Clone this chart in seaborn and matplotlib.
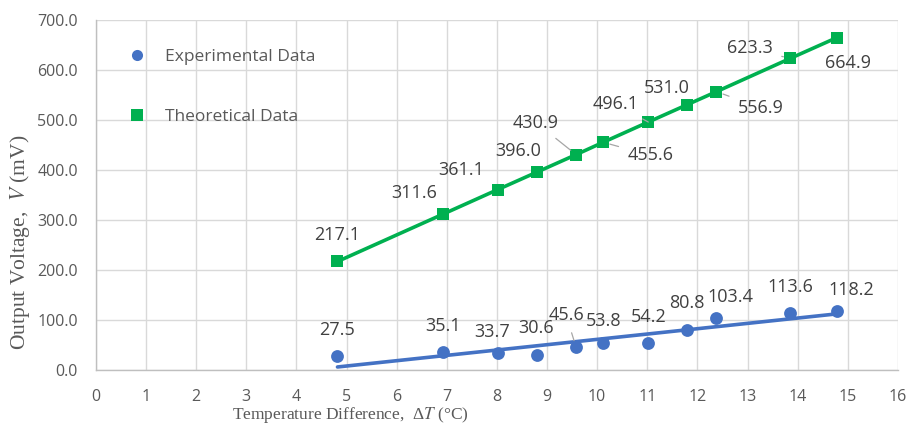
import numpy as np
import pandas as pd
import matplotlib
matplotlib.use("Agg")
import matplotlib.pyplot as plt
from matplotlib.lines import Line2D
import seaborn as sns

# ---- data ----
delta_t = [4.82, 6.92, 8.02, 8.80, 9.58, 10.12, 11.02, 11.80, 12.38, 13.85, 14.78]
experimental = [27.5, 35.1, 33.7, 30.6, 45.6, 53.8, 54.2, 80.8, 103.4, 113.6, 118.2]
theoretical = [217.1, 311.6, 361.1, 396.0, 430.9, 455.6, 496.1, 531.0, 556.9, 623.3, 664.9]
x_ticks = list(range(0, 17))
y_ticks = [0, 100, 200, 300, 400, 500, 600, 700]
series_names = ["Experimental Data", "Theoretical Data"]

df = pd.DataFrame({"dT": delta_t, "exp": experimental, "theo": theoretical})

sns.set_theme(style="whitegrid")
plt.rcParams["font.family"] = ["Open Sans", "DejaVu Sans"]
plt.rcParams["mathtext.fontset"] = "stix"

BLUE = "#4472C4"
GREEN = "#00B050"
GREY_TXT = "#595959"

fig = plt.figure(figsize=(9.13, 4.28), dpi=100)
ax = fig.add_axes([0.105, 0.1355, 0.8785, 0.8175])

# theoretical: line + square markers
sns.lineplot(data=df, x="dT", y="theo", ax=ax, color=GREEN, linewidth=2.6,
             marker="s", markersize=9, markeredgewidth=0, zorder=3)
# experimental: scatter + linear trendline
sns.regplot(data=df, x="dT", y="exp", ax=ax, scatter=False, ci=None, truncate=True,
            line_kws=dict(color=BLUE, linewidth=2.6, zorder=3))
sns.scatterplot(data=df, x="dT", y="exp", ax=ax, color=BLUE, s=85, linewidth=0, zorder=4)

ax.set_xlim(0, 16)
ax.set_ylim(0, 700)
ax.set_xticks(x_ticks)
ax.set_yticks(y_ticks)
ax.set_xticklabels([str(t) for t in x_ticks])
ax.set_yticklabels([f"{t:.1f}" for t in y_ticks])
ax.tick_params(axis="both", length=0, labelsize=11.5, labelcolor=GREY_TXT)
ax.tick_params(axis="x", pad=14)
ax.tick_params(axis="y", pad=13)
ax.grid(True, color="#d9d9d9", linewidth=1.0)
for s in ["top", "right"]:
    ax.spines[s].set_visible(False)
for s in ["left", "bottom"]:
    ax.spines[s].set_color("#bfbfbf")
    ax.spines[s].set_linewidth(1.0)

ax.set_xlabel("Temperature Difference,  Δ$\\mathit{T}$ (°C)", family="Liberation Serif",
              fontsize=12.5, color=GREY_TXT)
ax.set_ylabel("Output Voltage,  $\\mathit{V}$ (mV)", family="Liberation Serif",
              fontsize=15.5, color=GREY_TXT)
ax.xaxis.label.set_va("center")
ax.yaxis.label.set_va("center")
ax.xaxis.set_label_coords(0.317, -0.128)
ax.yaxis.set_label_coords(-0.0948, 0.365)

# data labels: offsets in pixels (dx right, dy down), leader flag
px = 0.72
theo_off = [(0, -26, False), (-29, -21, False), (-37, -20, False), (-19, -21, False),
            (-40, -32, True), (47, 13, True), (-33, -18, True), (-21, -17, False),
            (44, 16, True), (-40, -10, True), (11, 25, False)]
exp_off = [(0, -26, False), (0, -26, False), (-6, -21, False), (-1, -27, False),
           (-10, -32, True), (0, -22, False), (0, -26, False), (-1, -27, False),
           (14, -21, False), (0, -26, False), (15, -21, False)]

def label(x, y, val, off):
    dx, dy, lead = off
    kw = {}
    if lead:
        kw["arrowprops"] = dict(arrowstyle="-", color="#a6a6a6", lw=0.9,
                                shrinkA=4, shrinkB=5)
    ax.annotate(f"{val:.1f}", xy=(x, y), xytext=(dx * px, -dy * px),
                textcoords="offset points", ha="center", va="center",
                fontsize=13, color="#404040", zorder=5, **kw)

for x, y, o in zip(delta_t, theoretical, theo_off):
    label(x, y, y, o)
for x, y, o in zip(delta_t, experimental, exp_off):
    label(x, y, y, o)

handles = [Line2D([], [], linestyle="none", marker="o", markersize=8, color=BLUE, markeredgewidth=0),
           Line2D([], [], linestyle="none", marker="s", markersize=8, color=GREEN, markeredgewidth=0)]
leg = ax.legend(handles, series_names, loc="upper left", bbox_to_anchor=(0.019, 0.962),
                frameon=False, labelspacing=2.52, handletextpad=1.0, handlelength=1.2,
                prop=dict(family="Open Sans", size=12.5))
for t in leg.get_texts():
    t.set_color(GREY_TXT)

fig.savefig("out.png", dpi=100)
